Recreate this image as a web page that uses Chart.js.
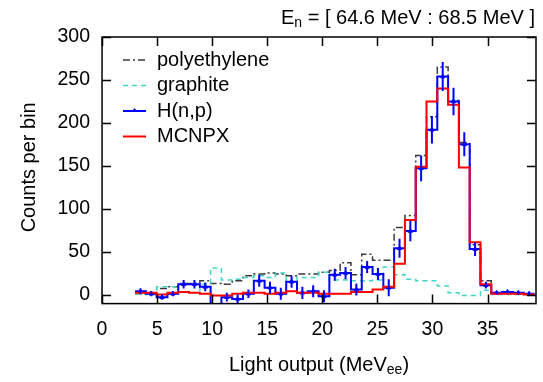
<!DOCTYPE html>
<html>
<head>
<meta charset="utf-8">
<script src="https://cdn.jsdelivr.net/npm/chart.js@4.4.1/dist/chart.umd.min.js"></script>
<style>
  html, body { margin: 0; padding: 0; background: #fff; }
  canvas { display: block; }
</style>
</head>
<body>
<canvas id="myChart" width="543" height="382"></canvas>
<script>
// histogram bin edges (MeVee), 37 bins
var binEdges = [3.00, 3.98, 4.96, 5.94, 6.92, 7.90, 8.88, 9.86, 10.84, 11.82,
                12.80, 13.78, 14.76, 15.74, 16.72, 17.70, 18.68, 19.66, 20.64, 21.62,
                22.60, 23.58, 24.56, 25.54, 26.52, 27.50, 28.48, 29.46, 30.44, 31.42,
                32.40, 33.38, 34.36, 35.34, 36.32, 37.30, 38.28, 39.26];

var polyethylene = [1, 1, 7, 9, 13, 13, 16, 13, 12, 16,
                    22, 24, 25, 24, 22, 24, 24, 26, 28, 37,
                    23, 47, 40, 40, 78, 92, 162, 207, 265, 226,
                    177, 58, 16, 2, 2, 2, 1];

var graphite = [1, 0, 9, 9, 3, 2, 12, 31, 17, 18,
                20, 22, 20, 25, 14, 20, 20, 26, 17, 17,
                16, 16, 17, 32, 23, 18, 16, 16, 10, 2,
                -1, -1, 5, 0, 0, 0, 0];

var hnp = [4, 1, -3, 1, 12, 12, 9, -15, -3, -5,
           1, 16, 8, 1, 15, 2, 4, -2, 23, 25,
           6, 32, 24, 8, 54, 74, 147, 192, 254, 225,
           175, 53, 11, 2, 3, 2, 1];

var hnpErr = [3, 3, 3, 3, 5, 5, 5, 5, 5, 5,
              5, 7, 7, 7, 7, 7, 7, 7, 7, 7,
              7, 7, 7, 10, 11, 12, 15, 16, 17, 16,
              14, 8, 4, 1.5, 1.5, 1.5, 1.5];

var mcnpx = [2, 2, 0, 2, 3, 2, 1, -1, -1, 1,
             2, 2, 1, 2, 4, 2, 2, 1, 1, 1,
             3, 3, 6, 9, 36, 87, 149, 225, 240, 221,
             148, 61, 12, 1, 1, 1, 0];

var xTicks = [0, 5, 10, 15, 20, 25, 30, 35];
var yTicks = [0, 50, 100, 150, 200, 250, 300];

var FONT = "'Liberation Sans', Arial, sans-serif";
var colPoly = '#3a3a3a';
var colGraph = '#3fd6c8';
var colHnp = '#0000ff';
var colMc = '#ff0000';

function histPoints(values) {
  var pts = [{x: binEdges[0], y: values[0]}];
  for (var i = 0; i < values.length; i++) {
    pts.push({x: binEdges[i + 1], y: values[i]});
  }
  return pts;
}

function centerPoints(values) {
  var pts = [];
  for (var i = 0; i < values.length; i++) {
    pts.push({x: (binEdges[i] + binEdges[i + 1]) / 2, y: values[i]});
  }
  return pts;
}

// draws text pieces, some as subscripts
function drawRich(ctx, parts, x, y, align) {
  var big = '20px ' + FONT, small = '14px ' + FONT;
  var w = 0;
  parts.forEach(function(p) {
    ctx.font = p.sub ? small : big;
    w += ctx.measureText(p.t).width;
  });
  var cx = align === 'right' ? x - w : (align === 'center' ? x - w / 2 : x);
  ctx.textAlign = 'left';
  ctx.textBaseline = 'middle';
  parts.forEach(function(p) {
    ctx.font = p.sub ? small : big;
    ctx.fillText(p.t, cx, p.sub ? y + 5 : y);
    cx += ctx.measureText(p.t).width;
  });
}

var extras = {
  id: 'extras',
  afterDatasetsDraw: function(chart) {
    var ctx = chart.ctx, xs = chart.scales.x, ys = chart.scales.y, a = chart.chartArea;
    ctx.save();
    ctx.beginPath();
    ctx.rect(a.left, a.top, a.right - a.left, a.bottom - a.top);
    ctx.clip();
    ctx.strokeStyle = colHnp;
    ctx.lineWidth = 2;
    for (var i = 0; i < hnp.length; i++) {
      var px = xs.getPixelForValue((binEdges[i] + binEdges[i + 1]) / 2);
      ctx.beginPath();
      ctx.moveTo(px, ys.getPixelForValue(hnp[i] - hnpErr[i]));
      ctx.lineTo(px, ys.getPixelForValue(hnp[i] + hnpErr[i]));
      ctx.stroke();
    }
    ctx.restore();
  },
  afterDraw: function(chart) {
    var ctx = chart.ctx, xs = chart.scales.x, ys = chart.scales.y, a = chart.chartArea;
    ctx.save();
    // frame
    ctx.strokeStyle = '#000';
    ctx.lineWidth = 1.5;
    ctx.strokeRect(a.left, a.top, a.right - a.left, a.bottom - a.top);
    // inward ticks on all sides
    var tl = 9;
    ctx.beginPath();
    xTicks.forEach(function(v) {
      var px = Math.round(xs.getPixelForValue(v)) + 0.5;
      ctx.moveTo(px, a.bottom); ctx.lineTo(px, a.bottom - tl);
      ctx.moveTo(px, a.top); ctx.lineTo(px, a.top + tl);
    });
    yTicks.forEach(function(v) {
      var py = Math.round(ys.getPixelForValue(v)) + 0.5;
      ctx.moveTo(a.left, py); ctx.lineTo(a.left + tl, py);
      ctx.moveTo(a.right, py); ctx.lineTo(a.right - tl, py);
    });
    ctx.stroke();

    // legend
    var rows = [
      {label: 'polyethylene', color: colPoly, dash: [7, 3, 2, 3], w: 1.5},
      {label: 'graphite', color: colGraph, dash: [5, 4], w: 1.5},
      {label: 'H(n,p)', color: colHnp, dash: [], w: 2, marker: true},
      {label: 'MCNPX', color: colMc, dash: [], w: 2}
    ];
    rows.forEach(function(r, i) {
      var y = 60 + i * 25.5;
      ctx.strokeStyle = r.color;
      ctx.lineWidth = r.w;
      ctx.setLineDash(r.dash);
      ctx.beginPath();
      ctx.moveTo(123, y); ctx.lineTo(146, y);
      ctx.stroke();
      ctx.setLineDash([]);
      if (r.marker) {
        ctx.fillStyle = r.color;
        ctx.beginPath();
        ctx.moveTo(134.5, y - 3); ctx.lineTo(137.5, y + 1); ctx.lineTo(131.5, y + 1);
        ctx.closePath();
        ctx.fill();
      }
      ctx.fillStyle = '#000';
      ctx.font = '20px ' + FONT;
      ctx.textAlign = 'left';
      ctx.textBaseline = 'middle';
      ctx.fillText(r.label, 157, y);
    });

    // titles
    ctx.fillStyle = '#000';
    drawRich(ctx, [{t: 'E'}, {t: 'n', sub: true}, {t: ' = [ 64.6 MeV : 68.5 MeV ]'}], 535, 18, 'right');
    drawRich(ctx, [{t: 'Light output (MeV'}, {t: 'ee', sub: true}, {t: ')'}], (a.left + a.right) / 2, 365, 'center');

    ctx.translate(29, (a.top + a.bottom) / 2 - 3);
    ctx.rotate(-Math.PI / 2);
    ctx.font = '20px ' + FONT;
    ctx.textAlign = 'center';
    ctx.textBaseline = 'middle';
    ctx.fillText('Counts per bin', 0, 0);
    ctx.restore();
  }
};

var ctx = document.getElementById('myChart').getContext('2d');
var chart = new Chart(ctx, {
  type: 'line',
  data: {
    datasets: [
      {
        label: 'MCNPX',
        data: histPoints(mcnpx),
        borderColor: colMc,
        borderWidth: 2,
        stepped: 'after',
        pointRadius: 0,
        fill: false
      },
      {
        label: 'H(n,p) markers',
        data: centerPoints(hnp),
        showLine: false,
        pointStyle: 'triangle',
        pointRadius: 2.5,
        pointBackgroundColor: colHnp,
        pointBorderColor: colHnp,
        pointBorderWidth: 1
      },
      {
        label: 'H(n,p)',
        data: histPoints(hnp),
        borderColor: colHnp,
        borderWidth: 2,
        stepped: 'after',
        pointRadius: 0,
        fill: false
      },
      {
        label: 'graphite',
        data: histPoints(graphite),
        borderColor: colGraph,
        borderWidth: 1.5,
        borderDash: [5, 4],
        stepped: 'after',
        pointRadius: 0,
        fill: false
      },
      {
        label: 'polyethylene',
        data: histPoints(polyethylene),
        borderColor: colPoly,
        borderWidth: 1.5,
        borderDash: [7, 3, 2, 3],
        stepped: 'after',
        pointRadius: 0,
        fill: false
      }
    ]
  },
  options: {
    responsive: false,
    animation: false,
    devicePixelRatio: 1,
    layout: { padding: { left: 45.5, right: 7, top: 37, bottom: 26 } },
    plugins: {
      legend: { display: false },
      tooltip: { enabled: false },
      title: { display: false }
    },
    scales: {
      x: {
        type: 'linear',
        min: 0,
        max: 39.4,
        grid: { display: false, drawTicks: false },
        border: { display: false },
        afterBuildTicks: function(axis) {
          axis.ticks = xTicks.map(function(v) { return {value: v}; });
        },
        ticks: {
          padding: 14.5,
          maxRotation: 0,
          autoSkip: false,
          color: '#000',
          font: { size: 19.5, family: FONT }
        }
      },
      y: {
        type: 'linear',
        min: -10.5,
        max: 300,
        grid: { display: false, drawTicks: false },
        border: { display: false },
        afterBuildTicks: function(axis) {
          axis.ticks = yTicks.map(function(v) { return {value: v}; });
        },
        ticks: {
          padding: 12,
          color: '#000',
          font: { size: 19.5, family: FONT }
        }
      }
    }
  },
  plugins: [extras]
});
</script>
</body>
</html>
